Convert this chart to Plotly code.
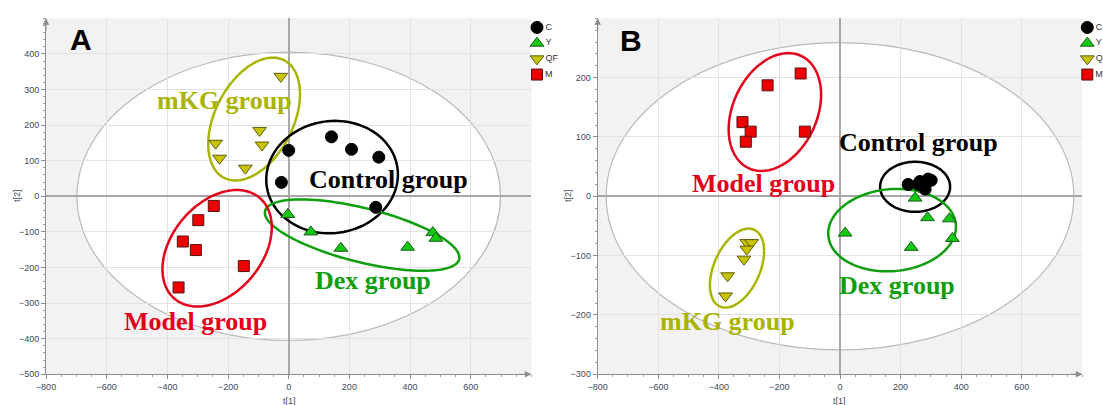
import numpy as np
import plotly.graph_objects as go

W, H = 1103, 405

# ---------------- data ----------------
groups = ["C", "Y", "QF", "M"]

# Panel A score values (t[1], t[2])
a_c_t1 = [0, 141, 207, 297, -24, 287]
a_c_t2 = [129, 167, 132, 110, 39, -31]
a_y_t1 = [-3, 73, 172, 392, 475, 485]
a_y_t2 = [-51, -100, -146, -143, -102, -118]
a_qf_t1 = [-241, -228, -143, -96, -88, -26]
a_qf_t2 = [149, 107, 79, 185, 144, 337]
a_m_t1 = [-247, -298, -349, -306, -148, -363]
a_m_t2 = [-27, -67, -127, -151, -196, -256]

# Panel B score values (t[1], t[2])
b_c_t1 = [225, 264, 291, 301, 281, 258]
b_c_t2 = [20, 25, 29, 27, 12, 20]
b_y_t1 = [248, 289, 361, 371, 17, 235]
b_y_t2 = [-3, -36, -38, -71, -62, -86]
b_qf_t1 = [-308, -292, -308, -317, -371, -378]
b_qf_t2 = [-78, -78, -89, -106, -134, -168]
b_m_t1 = [-239, -130, -322, -295, -311, -116]
b_m_t2 = [187, 207, 125, 109, 92, 109]

# axis ranges / ticks
x_range = [-800, 800]
x_ticks = [-800, -600, -400, -200, 0, 200, 400, 600]
a_y_range = [-500, 500]
a_y_ticks = [-500, -400, -300, -200, -100, 0, 100, 200, 300, 400]
b_y_range = [-300, 300]
b_y_ticks = [-300, -200, -100, 0, 100, 200]

# Hotelling T2 ellipse semi-axes
a_t2 = (698, 405)
b_t2 = (772, 259)

# ---------------- styles ----------------
OLIVE = "#a9b400"
GREEN = "#0e9e0e"
RED = "#e2001a"
BLACK = "#000000"

marker_style = {
    "C": dict(symbol="circle", color="#000000", line=dict(color="#000000", width=1), size=12),
    "Y": dict(symbol="triangle-up", color="#14c814", line=dict(color="#1a5a1a", width=1), size=12),
    "QF": dict(symbol="triangle-down", color="#c8c300", line=dict(color="#5e5c10", width=1), size=12),
    "M": dict(symbol="square", color="#ee0000", line=dict(color="#5a1010", width=1), size=11),
}

# plot-area geometry (pixels)
AX0, AX1 = 46.0, 531.4
BX0, BX1 = 597.7, 1082.3
YTOP, YBOT = 18.3, 374.3

dom_y = [1 - YBOT / H, 1 - YTOP / H]
sxA = (AX1 - AX0) / (x_range[1] - x_range[0])
syA = (YBOT - YTOP) / (a_y_range[1] - a_y_range[0])
sxB = (BX1 - BX0) / (x_range[1] - x_range[0])
syB = (YBOT - YTOP) / (b_y_range[1] - b_y_range[0])

fig = go.Figure()

panelA = {"C": (a_c_t1, a_c_t2), "Y": (a_y_t1, a_y_t2), "QF": (a_qf_t1, a_qf_t2), "M": (a_m_t1, a_m_t2)}
panelB = {"C": (b_c_t1, b_c_t2), "Y": (b_y_t1, b_y_t2), "QF": (b_qf_t1, b_qf_t2), "M": (b_m_t1, b_m_t2)}

for panel, xa, ya in [(panelA, "x", "y"), (panelB, "x2", "y2")]:
    for g in groups:
        xs, ys = panel[g]
        fig.add_trace(go.Scatter(
            x=xs, y=ys, mode="markers", name=g, xaxis=xa, yaxis=ya,
            marker=marker_style[g], showlegend=False, hoverinfo="skip",
        ))

# key boxes at the right of each panel
for xa, ya in [("x3", "y3"), ("x4", "y4")]:
    for g in groups:
        fig.add_trace(go.Scatter(
            x=[0], y=[g], mode="markers+text", text=[g], textposition="middle right",
            textfont=dict(family="Liberation Sans", size=9, color="#333333"),
            marker=marker_style[g], xaxis=xa, yaxis=ya, showlegend=False,
            cliponaxis=False, hoverinfo="skip",
        ))


def axis_style(rng, ticks, minor_dtick, domain, anchor):
    return dict(
        range=rng, domain=domain, anchor=anchor, tickmode="array", tickvals=ticks,
        automargin=False,
        showgrid=True, gridcolor="#e2e2e2", gridwidth=1,
        zeroline=True, zerolinecolor="#a8a8a8", zerolinewidth=1.5,
        showline=True, linecolor="#8c8c8c", linewidth=1,
        ticks="outside", ticklen=4, tickcolor="#8c8c8c", tickwidth=1,
        tickfont=dict(family="Liberation Sans", size=9, color="#3c4a60"),
        minor=dict(ticks="outside", ticklen=2, tickcolor="#a0a0a0", dtick=minor_dtick, showgrid=False),
        fixedrange=True,
    )


fig.update_layout(
    width=W, height=H, margin=dict(l=0, r=0, t=0, b=0, autoexpand=False),
    paper_bgcolor="white", plot_bgcolor="rgba(0,0,0,0)", showlegend=False,
    xaxis=axis_style(x_range, x_ticks, 50, [AX0 / W, AX1 / W], "y"),
    yaxis=axis_style(a_y_range, a_y_ticks, 20, dom_y, "x"),
    xaxis2=axis_style(x_range, x_ticks, 50, [BX0 / W, BX1 / W], "y2"),
    yaxis2=axis_style(b_y_range, b_y_ticks, 20, dom_y, "x2"),
)

# key axes
key_rows_top, key_rows_bot = 19.6, 82.4
key_dom_y = [1 - key_rows_bot / H, 1 - key_rows_top / H]
for xn, yn, cx in [("xaxis3", "yaxis3", 537.0), ("xaxis4", "yaxis4", 1087.3)]:
    fig.layout[xn] = dict(domain=[(cx - 10) / W, (cx + 10) / W], range=[-1, 1], visible=False,
                          anchor=yn.replace("axis", ""), fixedrange=True, automargin=False)
    fig.layout[yn] = dict(domain=key_dom_y, type="category", categoryorder="array",
                          categoryarray=groups, range=[3.5, -0.5], visible=False,
                          anchor=xn.replace("axis", ""), fixedrange=True, automargin=False)

shapes = []
# grey plot-area background and white T2 ellipse
for xr, yr, (ra, rb) in [("x", "y", a_t2), ("x2", "y2", b_t2)]:
    shapes.append(dict(type="rect", xref=f"{xr} domain", yref=f"{yr} domain", x0=0, x1=1, y0=0, y1=1,
                       fillcolor="#f2f2f2", line=dict(width=0), layer="below"))
    shapes.append(dict(type="circle", xref=xr, yref=yr, x0=-ra, x1=ra, y0=-rb, y1=rb,
                       fillcolor="white", line=dict(color="#b9b9b9", width=1.2), layer="below"))


def ellipse_path(cx, cy, a_px, b_px, ang_deg, sx, sy, n=120):
    t = np.linspace(0, 2 * np.pi, n, endpoint=False)
    th = np.radians(ang_deg)
    dx = a_px * np.cos(t) * np.cos(th) - b_px * np.sin(t) * np.sin(th)
    dy = a_px * np.cos(t) * np.sin(th) + b_px * np.sin(t) * np.cos(th)
    xs = cx + dx / sx
    ys = cy + dy / sy
    pts = [f"{x:.2f},{y:.2f}" for x, y in zip(xs, ys)]
    return "M " + " L ".join(pts) + " Z"


# group outlines: centre (data units), semi-axes (px), tilt (deg), colour
rings_A = [
    (-114, 217, 66, 39, 63, OLIVE),
    (143, 54, 66, 56, 8, BLACK),
    (242, -109, 100, 27, -14, GREEN),
    (-236, -146, 66, 45, 50, RED),
]
rings_B = [
    (-215, 142, 62, 42, 65, RED),
    (248, 16, 35, 25, 0, BLACK),
    (172, -57, 64, 41, 5, GREEN),
    (-340, -121, 42, 23, 66, OLIVE),
]
for rings, xr, yr, sx, sy in [(rings_A, "x", "y", sxA, syA), (rings_B, "x2", "y2", sxB, syB)]:
    for cx, cy, ra, rb, ang, col in rings:
        shapes.append(dict(type="path", xref=xr, yref=yr, path=ellipse_path(cx, cy, ra, rb, ang, sx, sy),
                           line=dict(color=col, width=2.5), fillcolor="rgba(0,0,0,0)", layer="between"))

fig.update_layout(shapes=shapes)

ann = []
label_font = dict(family="Liberation Serif", size=26, weight="bold")
labels_A = [("mKG group", -213, 268, OLIVE), ("Control group", 329, 46, BLACK),
            ("Dex group", 278, -236, GREEN), ("Model group", -307, -351, RED)]
labels_B = [("Model group", -253, 21, RED), ("Control group", 258, 90, BLACK),
            ("Dex group", 188, -151, GREEN), ("mKG group", -370, -211, OLIVE)]
for labels, xr, yr in [(labels_A, "x", "y"), (labels_B, "x2", "y2")]:
    for txt, x, y, col in labels:
        ann.append(dict(text=txt, x=x, y=y, xref=xr, yref=yr, showarrow=False,
                        font=dict(color=col, **label_font), xanchor="center", yanchor="middle"))

# panel letters
for txt, px, py in [("A", 81, 39), ("B", 631, 40)]:
    ann.append(dict(text=txt, x=px / W, y=1 - py / H, xref="paper", yref="paper", showarrow=False,
                    font=dict(family="Liberation Sans", size=30, color="black", weight="bold"),
                    xanchor="center", yanchor="middle"))

# axis titles
tfont = dict(family="Liberation Sans", size=9, color="#3c4a60")
for px, py in [(17, 196), (568, 196)]:
    ann.append(dict(text="t[2]", x=px / W, y=1 - py / H, xref="paper", yref="paper", showarrow=False,
                    textangle=-90, font=tfont, xanchor="center", yanchor="middle"))
for px, py in [(289, 401), (839, 401)]:
    ann.append(dict(text="t[1]", x=px / W, y=1 - py / H, xref="paper", yref="paper", showarrow=False,
                    font=tfont, xanchor="center", yanchor="middle"))

# arrow heads at the ends of the axis lines
for xr, yr, yr_rng in [("x", "y", a_y_range), ("x2", "y2", b_y_range)]:
    ann.append(dict(text="", x=x_range[0], y=yr_rng[1], xref=xr, yref=yr, showarrow=True,
                    ax=0, ay=14, arrowhead=2, arrowsize=1.3, arrowwidth=1, arrowcolor="#8c8c8c"))
    ann.append(dict(text="", x=x_range[1], y=yr_rng[0], xref=xr, yref=yr, showarrow=True,
                    ax=-14, ay=0, arrowhead=2, arrowsize=1.3, arrowwidth=1, arrowcolor="#8c8c8c"))

fig.update_layout(annotations=ann)

fig.write_html("out.html")
